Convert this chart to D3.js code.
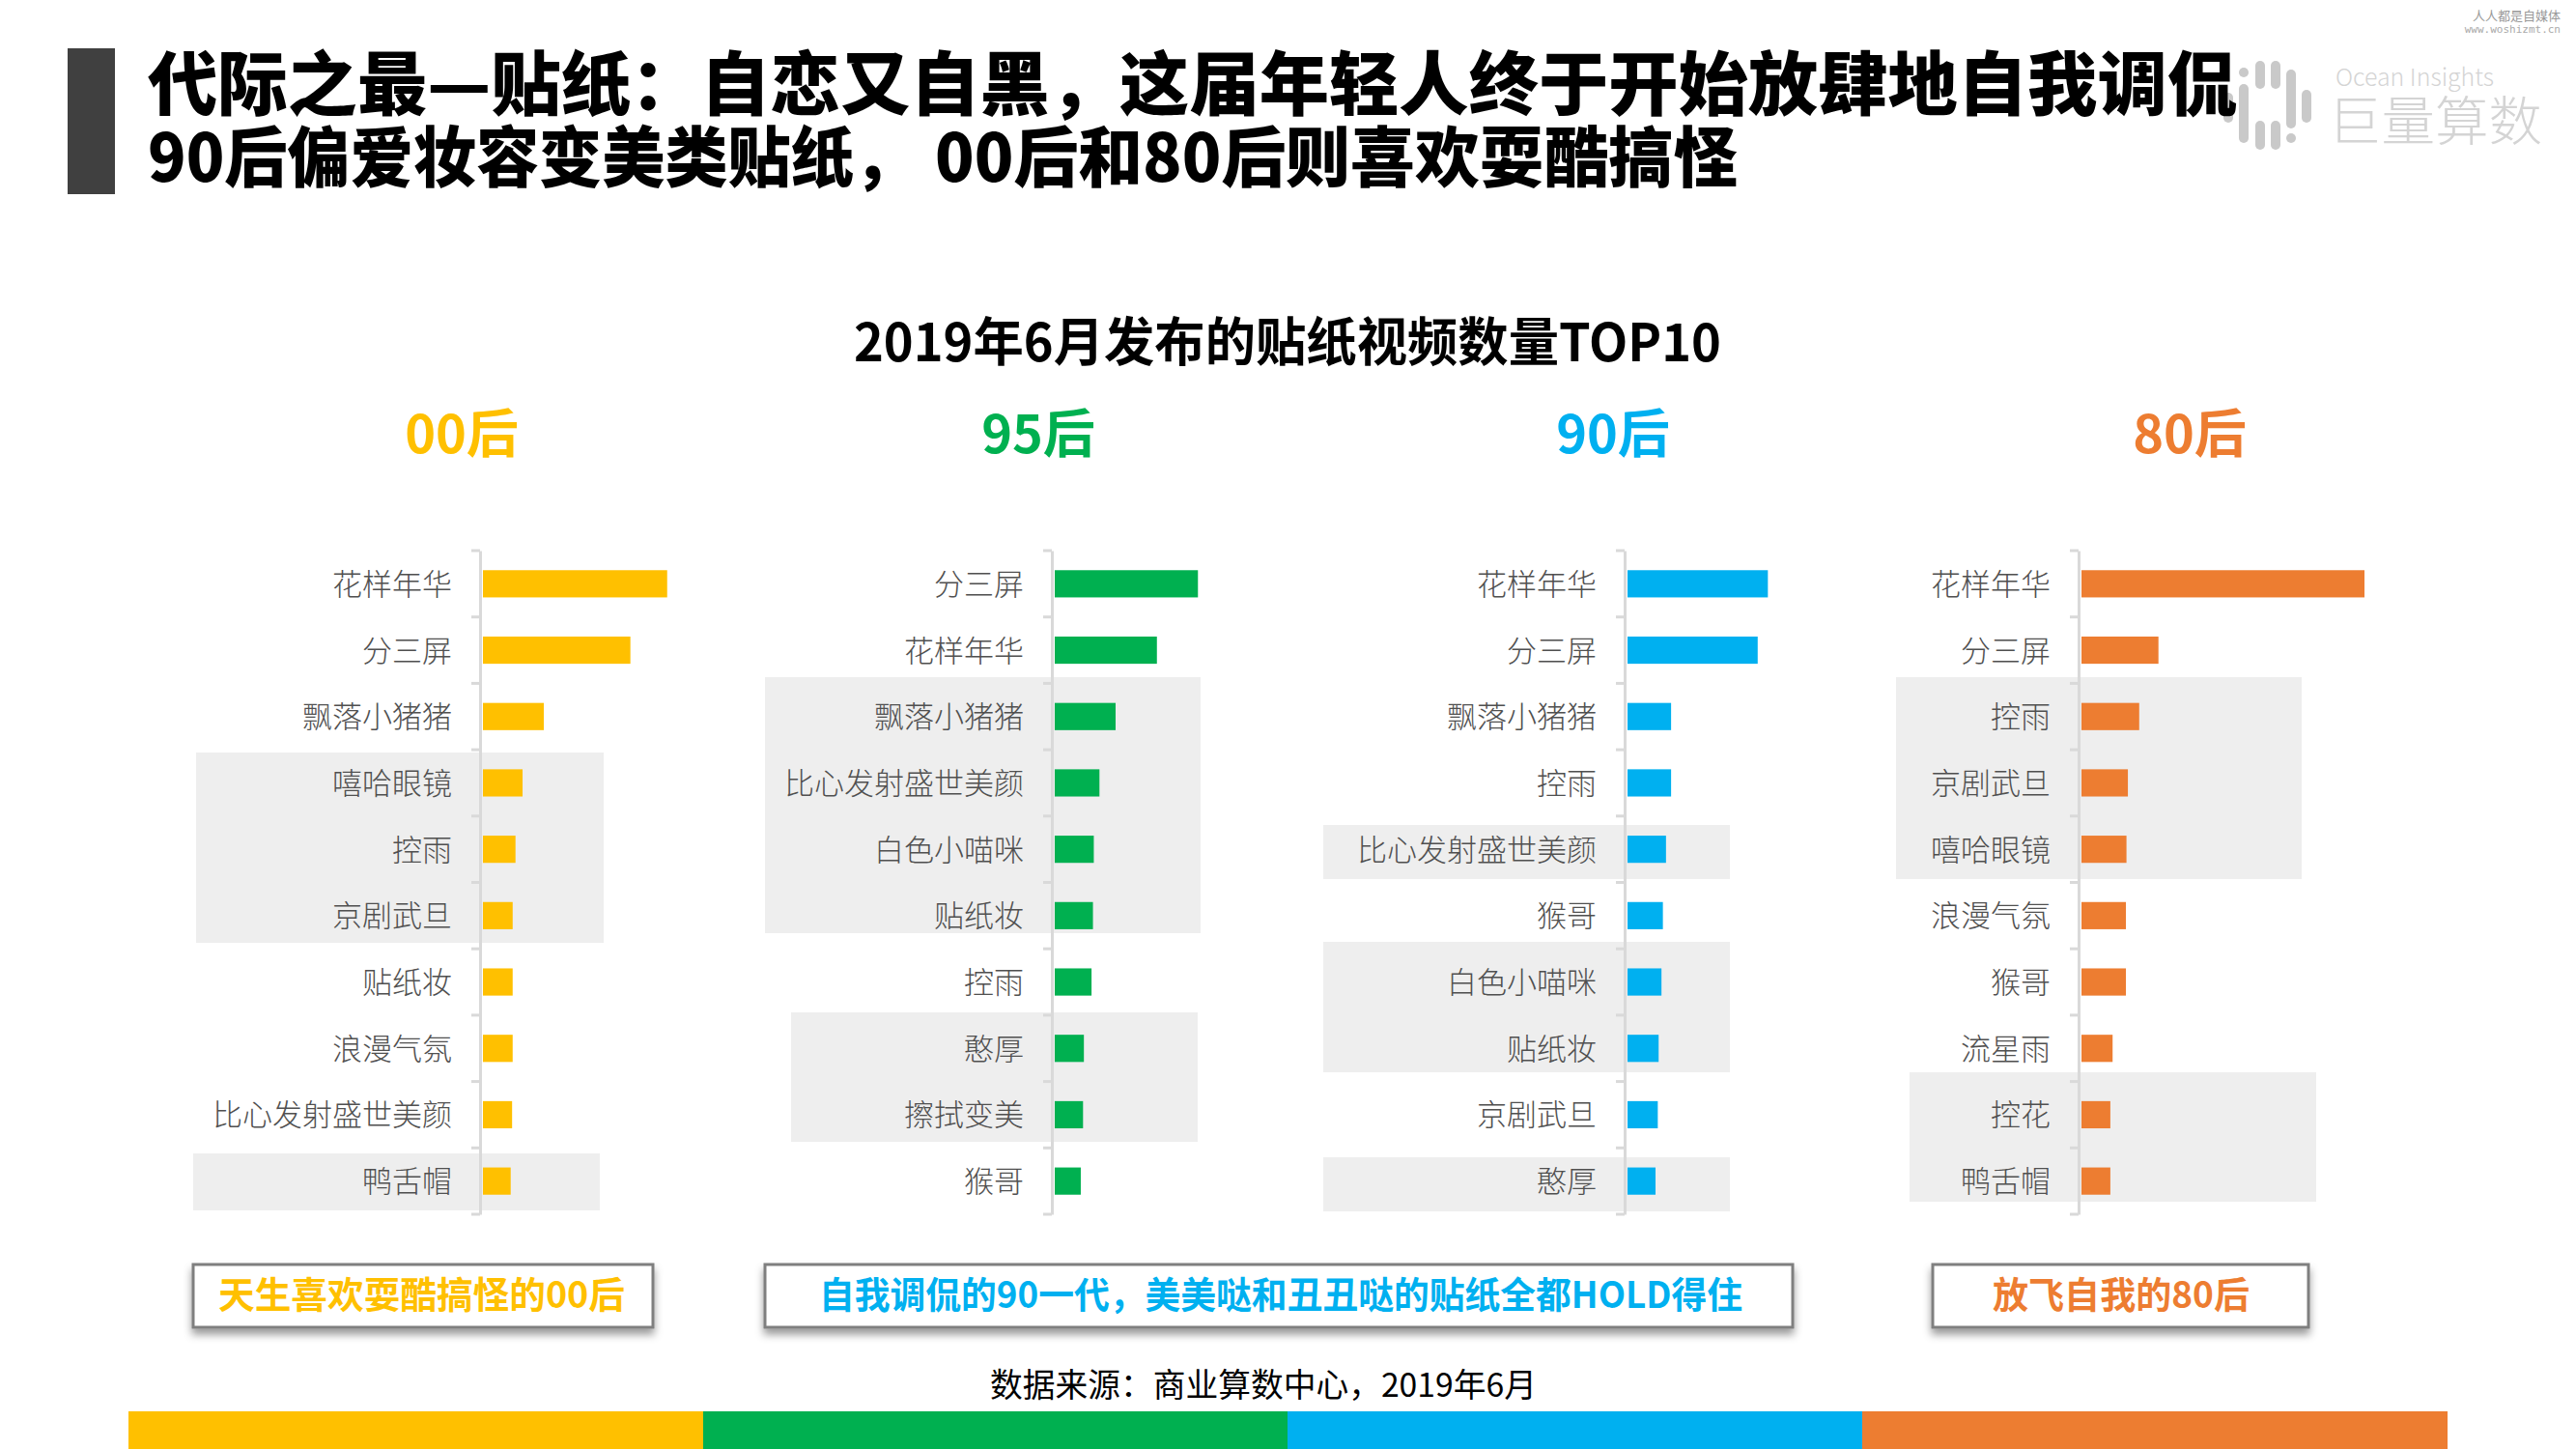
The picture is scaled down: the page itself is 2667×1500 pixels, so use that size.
<!DOCTYPE html>
<html>
<head>
<meta charset="utf-8">
<title>2019年6月发布的贴纸视频数量TOP10</title>
<script src="https://d3js.org/d3.v7.min.js"></script>
<style>
html, body { margin: 0; padding: 0; background: #fff; }
svg { display: block; }
text { font-family: "Noto Sans CJK SC", sans-serif; }
</style>
</head>
<body>
<div id="chart"></div>
<script>
var generations = ["00后", "95后", "90后", "80后"];
var colors = ["#FFC000", "#00B050", "#00B0F0", "#ED7D31"];

var names00 = ["花样年华", "分三屏", "飘落小猪猪", "嘻哈眼镜", "控雨", "京剧武旦", "贴纸妆", "浪漫气氛", "比心发射盛世美颜", "鸭舌帽"];
var names95 = ["分三屏", "花样年华", "飘落小猪猪", "比心发射盛世美颜", "白色小喵咪", "贴纸妆", "控雨", "憨厚", "擦拭变美", "猴哥"];
var names90 = ["花样年华", "分三屏", "飘落小猪猪", "控雨", "比心发射盛世美颜", "猴哥", "白色小喵咪", "贴纸妆", "京剧武旦", "憨厚"];
var names80 = ["花样年华", "分三屏", "控雨", "京剧武旦", "嘻哈眼镜", "浪漫气氛", "猴哥", "流星雨", "控花", "鸭舌帽"];

var values00 = [65.1, 52.1, 21.5, 14.0, 11.5, 10.5, 10.5, 10.5, 10.3, 9.8];
var values95 = [50.6, 36.1, 21.5, 15.8, 13.8, 13.5, 13.0, 10.3, 10.0, 9.2];
var values90 = [49.6, 46.0, 15.4, 15.4, 13.6, 12.5, 12.0, 11.0, 10.7, 9.9];
var values80 = [100, 27.2, 20.4, 16.4, 15.9, 15.7, 15.7, 11.0, 10.2, 10.2];

var allNames = [names00, names95, names90, names80];
var allValues = [values00, values95, values90, values80];

var W = 2667, H = 1500;
var svg = d3.select("#chart").append("svg").attr("width", W).attr("height", H);

var defs = svg.append("defs");
defs.append("filter").attr("id", "boxShadow")
	.attr("x", "-5%").attr("y", "-20%").attr("width", "110%").attr("height", "150%")
	.append("feDropShadow")
	.attr("dx", 0).attr("dy", 6).attr("stdDeviation", 4)
	.attr("flood-color", "#000").attr("flood-opacity", 0.4);

// header
svg.append("rect").attr("x", 70).attr("y", 50).attr("width", 49).attr("height", 151).attr("fill", "#404040");

// logo, goes under the title
var logo = svg.append("g").attr("fill", "#c9c9c9");
var logoBars = [
	[2307, 96, 127], [2323, 87, 148], [2340, 63, 92], [2340, 125, 155], [2356, 63, 92],
	[2356, 125, 155], [2372, 72, 133], [2388, 93, 127]
];
logoBars.forEach(function(b) {
	logo.append("rect").attr("x", b[0] - 5).attr("y", b[1]).attr("width", 10).attr("height", b[2] - b[1]).attr("rx", 5);
});
logo.append("circle").attr("cx", 2323).attr("cy", 75).attr("r", 5);
logo.append("circle").attr("cx", 2372).attr("cy", 143).attr("r", 5);

svg.append("text").attr("x", 2418).attr("y", 78).attr("dominant-baseline", "central")
	.attr("font-size", 25).attr("font-weight", 300).attr("fill", "#d4d4d4")
	.attr("textLength", 164).attr("lengthAdjust", "spacingAndGlyphs").text("Ocean Insights");
svg.append("text").attr("x", 2410).attr("y", 121).attr("dominant-baseline", "central")
	.attr("font-size", 55).attr("font-weight", 300).attr("fill", "#d4d4d4")
	.attr("textLength", 222).attr("lengthAdjust", "spacingAndGlyphs").text("巨量算数");
svg.append("text").attr("x", 2651).attr("y", 15).attr("dominant-baseline", "central").attr("text-anchor", "end")
	.attr("font-size", 13).attr("fill", "#999").text("人人都是自媒体");
svg.append("text").attr("x", 2651).attr("y", 30).attr("dominant-baseline", "central").attr("text-anchor", "end")
	.attr("font-size", 11).attr("fill", "#aaa").style("font-family", "DejaVu Sans Mono").text("www.woshizmt.cn");

function fitted(txt, x, y, size, len, weight, fill) {
	return svg.append("text").attr("x", x).attr("y", y).attr("dominant-baseline", "central")
		.attr("font-size", size).attr("font-weight", weight).attr("fill", fill)
		.attr("textLength", len).attr("lengthAdjust", "spacingAndGlyphs").text(txt);
}

// full-width punctuation, as in the reference
var COLON = "\uFF1A", COMMA = "\uFF0C";

fitted("代际之最—贴纸" + COLON + "自恋又自黑" + COMMA + "这届年轻人终于开始放肆地自我调侃", 153, 81, 72, 2163, 900, "#000");
// the comma in this line is set tight in the reference, so the line is fitted in two parts
fitted("90后偏爱妆容变美类贴纸" + COMMA, 153, 158, 68, 796, 900, "#000");
fitted("00后和80后则喜欢耍酷搞怪", 968, 158, 68, 831, 900, "#000");
fitted("2019年6月发布的贴纸视频数量TOP10", 884, 350, 54, 898, 700, "#000");

// pixel layout of each panel: axis x, generation header x, grey highlight blocks
var panels = [
	{ axisX: 497, headX: 478, blocks: [[203, 625, 779, 976], [200, 621, 1194, 1253]] },
	{ axisX: 1089, headX: 1075, blocks: [[792, 1243, 701, 966], [819, 1240, 1048, 1182]] },
	{ axisX: 1682, headX: 1670, blocks: [[1370, 1791, 854, 910], [1370, 1791, 975, 1110], [1370, 1791, 1198, 1254]] },
	{ axisX: 2152, headX: 2267, blocks: [[1963, 2383, 701, 910], [1977, 2398, 1110, 1244]] }
];

var x = d3.scaleLinear().domain([0, 100]).range([0, 293]);

panels.forEach(function(p, i) {
	var names = allNames[i], vals = allValues[i], color = colors[i];
	var y = d3.scaleBand().domain(names).range([570, 1257]).paddingInner(0.59).paddingOuter(0.295);

	var g = svg.append("g");

	g.selectAll("rect.block").data(p.blocks).enter().append("rect").attr("class", "block")
		.attr("x", function(b) { return b[0]; })
		.attr("y", function(b) { return b[2]; })
		.attr("width", function(b) { return b[1] - b[0]; })
		.attr("height", function(b) { return b[3] - b[2]; })
		.attr("fill", "#eeeeee");

	var axis = g.append("g").attr("transform", "translate(" + p.axisX + ",0)")
		.call(d3.axisLeft(y).tickSize(0).tickPadding(29));
	axis.select(".domain").attr("stroke", "#d9d9d9").attr("stroke-width", 3);
	axis.selectAll("text").attr("font-size", 31).attr("font-weight", 300).attr("fill", "#505050").attr("dy", "0.37em")
		.style("font-family", '"Noto Sans CJK SC", sans-serif');

	// the ticks sit between the categories, not on them
	d3.range(names.length + 1).forEach(function(k) {
		var ty = 570 + k * y.step();
		g.append("line").attr("x1", p.axisX - 9).attr("x2", p.axisX).attr("y1", ty).attr("y2", ty)
			.attr("stroke", "#d9d9d9").attr("stroke-width", 3);
	});

	g.selectAll("rect.bar").data(vals).enter().append("rect").attr("class", "bar")
		.attr("x", p.axisX + 3)
		.attr("y", function(d, j) { return y(names[j]); })
		.attr("width", function(d) { return x(d); })
		.attr("height", y.bandwidth())
		.attr("fill", color);

	svg.append("text").attr("x", p.headX).attr("y", 445).attr("text-anchor", "middle")
		.attr("dominant-baseline", "central").attr("font-size", 54).attr("font-weight", 700)
		.attr("fill", color).text(generations[i]);
});

// call-out boxes
var notes = [
	{ text: "天生喜欢耍酷搞怪的00后", color: colors[0], x0: 200, x1: 676, tx: 226, len: 421 },
	{ text: "自我调侃的90一代" + COMMA + "美美哒和丑丑哒的贴纸全都HOLD得住", color: colors[2], x0: 792, x1: 1856, tx: 848, len: 956 },
	{ text: "放飞自我的80后", color: colors[3], x0: 2001, x1: 2390, tx: 2063, len: 266 }
];
notes.forEach(function(n) {
	svg.append("rect").attr("x", n.x0).attr("y", 1309).attr("width", n.x1 - n.x0).attr("height", 65)
		.attr("fill", "#fff").attr("stroke", "#7f7f7f").attr("stroke-width", 3).attr("filter", "url(#boxShadow)");
	fitted(n.text, n.tx, 1337, 38, n.len, 700, n.color);
});

fitted("数据来源" + COLON + "商业算数中心" + COMMA + "2019年6月", 1025, 1431, 34, 566, 400, "#000");

// footer stripe, one block per generation
var stripeEdges = [133, 728, 1333, 1928, 2534];
svg.selectAll("rect.stripe").data(colors).enter().append("rect").attr("class", "stripe")
	.attr("x", function(d, i) { return stripeEdges[i]; })
	.attr("y", 1461)
	.attr("width", function(d, i) { return stripeEdges[i + 1] - stripeEdges[i]; })
	.attr("height", 39)
	.attr("fill", function(d) { return d; });
</script>
</body>
</html>
